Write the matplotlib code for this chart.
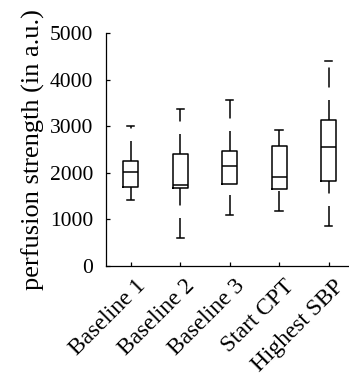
import matplotlib
matplotlib.use("Agg")
import matplotlib.pyplot as plt
import matplotlib.transforms as mtransforms

plt.rcParams['font.family'] = ['Liberation Serif', 'DejaVu Serif']
plt.rcParams['lines.scale_dashes'] = False

# five-number summaries per condition (a.u.)
conditions = ["Baseline 1", "Baseline 2", "Baseline 3", "Start CPT", "Highest SBP"]
whisker_low = [1418, 610, 1100, 1185, 860]
quart_1 = [1690, 1665, 1755, 1648, 1830]
medians = [2013, 1750, 2150, 1920, 2560]
quart_3 = [2262, 2410, 2480, 2570, 3130]
whisker_high = [3007, 3366, 3560, 2930, 4410]

yticks = [0, 1000, 2000, 3000, 4000, 5000]

stats = []
for i, name in enumerate(conditions):
    stats.append({"label": name, "whislo": whisker_low[i], "q1": quart_1[i],
                  "med": medians[i], "q3": quart_3[i], "whishi": whisker_high[i],
                  "fliers": []})

fig = plt.figure(figsize=(3.49, 3.87), dpi=100)
ax = fig.add_axes([0.3037, 0.3127, 0.709, 0.6013])

lw = 1.1
bp = ax.bxp(stats, positions=range(1, len(conditions) + 1), widths=0.3,
            capwidths=0.15, showfliers=False,
            boxprops=dict(color="black", linewidth=lw),
            medianprops=dict(color="black", linewidth=lw),
            whiskerprops=dict(color="black", linewidth=lw,
                              linestyle=(0, (14.4, 9.0))),
            capprops=dict(color="black", linewidth=lw))

# dash pattern starts at the lower adjacent value for the lower whisker
for k in range(0, len(bp["whiskers"]), 2):
    w = bp["whiskers"][k]
    w.set_data(w.get_xdata()[::-1], w.get_ydata()[::-1])

ax.set_xlim(0.5, len(conditions) + 0.5)
ax.set_ylim(0, 5000)
ax.set_yticks(yticks)
ax.set_xticklabels(conditions, rotation=45, ha="right", rotation_mode="anchor",
                   fontsize=16.8)
ax.set_ylabel("perfusion strength (in a.u.)", fontsize=19, labelpad=4)

for side in ["top", "right"]:
    ax.spines[side].set_visible(False)
for side in ["left", "bottom"]:
    ax.spines[side].set_linewidth(0.9)
ax.tick_params(direction="in", length=3, width=0.9, pad=4)
ax.tick_params(axis="y", labelsize=15.5, pad=9)

# nudge the slanted category labels right and down
shift = mtransforms.ScaledTranslation(3 / 72, -3 / 72, fig.dpi_scale_trans)
for lab in ax.get_xticklabels():
    lab.set_transform(lab.get_transform() + shift)

fig.savefig("out.png", dpi=100)
